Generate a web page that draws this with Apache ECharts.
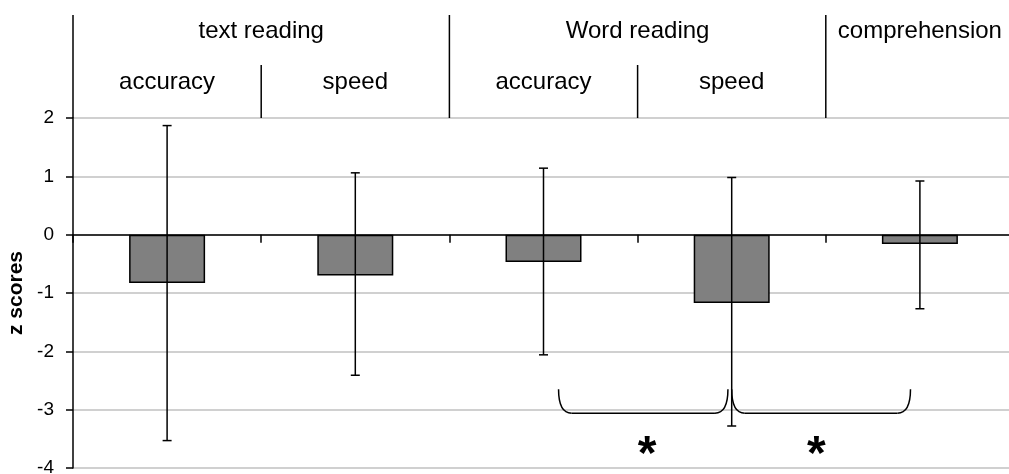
<!DOCTYPE html>
<html><head><meta charset="utf-8">
<script src="https://cdn.jsdelivr.net/npm/echarts@6/dist/echarts.min.js"></script>
<style>html,body{margin:0;padding:0;background:#fff}#c{width:1009px;height:474px}</style>
</head><body><div id="c"></div>
<script>
// ---- data ----
const categories = ['text reading accuracy', 'text reading speed', 'Word reading accuracy', 'Word reading speed', 'comprehension'];
const subLabels = ['accuracy', 'speed', 'accuracy', 'speed', ''];
const groupLabels = ['text reading', 'Word reading', 'comprehension'];
const groupSpans = [2, 2, 1];
const meanZ = [-0.83, -0.70, -0.47, -1.17, -0.16];
const errUpper = [1.87, 1.06, 1.14, 0.98, 0.92];
const errLower = [-3.53, -2.41, -2.06, -3.28, -1.27];
// significance annotation (category-index units / z units)
const bracketSpans = [[2.08, 2.98], [3.0, 3.95]];
const bracketLevels = [-2.65, -3.06];
const starPositions = [2.55, 3.45];
const starLevel = -3.63;

const FONT = '"Liberation Sans", Arial, Helvetica, sans-serif';
const chart = echarts.init(document.getElementById('c'), null, {renderer: 'canvas'});

const errData = categories.map((c, i) => [i, errLower[i], errUpper[i]]);

chart.setOption({
  animation: false,
  backgroundColor: '#fff',
  grid: {left: 73, top: 118, width: 941, height: 350, containLabel: false, outerBoundsMode: 'none'},
  xAxis: {
    type: 'category', data: categories,
    axisLine: {onZero: true, lineStyle: {color: '#000', width: 1.5}},
    axisTick: {show: true, length: 8, lineStyle: {color: '#000', width: 1.5}},
    axisLabel: {show: false},
    splitLine: {show: false}
  },
  yAxis: {
    type: 'value', min: -4, max: 2, interval: 1,
    axisLine: {show: true, lineStyle: {color: '#000', width: 1.5}},
    axisTick: {show: true, length: 7, lineStyle: {color: '#000', width: 1.5}},
    axisLabel: {fontSize: 19, color: '#000', fontFamily: FONT, margin: 19},
    splitLine: {show: true, lineStyle: {color: '#c0c0c0', width: 1.5}},
    name: 'z scores', nameLocation: 'middle', nameGap: 44,
    nameTextStyle: {fontWeight: 'bold', fontSize: 21, color: '#000', fontFamily: FONT}
  },
  series: [
    {
      type: 'bar', data: meanZ, barWidth: 76, z: 2,
      itemStyle: {color: '#808080', borderColor: '#000', borderWidth: 1.5}
    },
    {
      type: 'custom', data: errData, z: 5,
      renderItem: function (params, api) {
        const x = api.value(0);
        const lo = api.coord([x, api.value(1)]);
        const hi = api.coord([x, api.value(2)]);
        const hw = 4.5;
        const st = {stroke: '#000', lineWidth: 1.5};
        return {type: 'group', children: [
          {type: 'line', shape: {x1: lo[0], y1: lo[1], x2: hi[0], y2: hi[1]}, style: st},
          {type: 'line', shape: {x1: hi[0] - hw, y1: hi[1], x2: hi[0] + hw, y2: hi[1]}, style: st},
          {type: 'line', shape: {x1: lo[0] - hw, y1: lo[1], x2: lo[0] + hw, y2: lo[1]}, style: st}
        ]};
      }
    }
  ]
});

// ---- header & annotations computed from the chart's own scales ----
function px(ci, v) { return chart.convertToPixel({gridIndex: 0}, [ci, v]); }
const c0 = px(0, 0), c1 = px(1, 0);
const step = c1[0] - c0[0];
const xAt = f => c0[0] + f * step;           // fractional category index -> px
const yAt = v => px(0, v)[1];
const yTop = yAt(2);
const topLine = 15, midLine = 65;
const row1Y = 31, row2Y = 82;
const stroke = {stroke: '#000', lineWidth: 1.5};
const g = [];

// axis line extension upward
g.push({type: 'line', shape: {x1: xAt(-0.5), y1: topLine, x2: xAt(-0.5), y2: yTop}, style: stroke, z: 10});

let start = 0;
groupLabels.forEach((name, gi) => {
  const span = groupSpans[gi];
  const center = xAt(start + (span - 1) / 2);
  g.push({type: 'text', x: center, y: row1Y, z: 10,
    style: {text: name, font: '24px ' + FONT, fill: '#000', textAlign: 'center', textVerticalAlign: 'middle'}});
  if (start > 0) {
    const bx = xAt(start - 0.5);
    g.push({type: 'line', shape: {x1: bx, y1: topLine, x2: bx, y2: yTop}, style: stroke, z: 10});
  }
  for (let k = 1; k < span; k++) {
    const bx = xAt(start + k - 0.5);
    g.push({type: 'line', shape: {x1: bx, y1: midLine, x2: bx, y2: yTop}, style: stroke, z: 10});
  }
  start += span;
});
subLabels.forEach((s, i) => {
  if (!s) return;
  g.push({type: 'text', x: xAt(i), y: row2Y, z: 10,
    style: {text: s, font: '24px ' + FONT, fill: '#000', textAlign: 'center', textVerticalAlign: 'middle'}});
});

// brackets
const yT = yAt(bracketLevels[0]), yB = yAt(bracketLevels[1]);
const r = 13;
bracketSpans.forEach(([a, b]) => {
  const xa = xAt(a), xb = xAt(b);
  g.push({type: 'bezierCurve', shape: {x1: xa, y1: yT, cpx1: xa, cpy1: yB, x2: xa + r, y2: yB}, style: {stroke: '#000', lineWidth: 1.5, fill: null}, z: 10});
  g.push({type: 'line', shape: {x1: xa + r, y1: yB, x2: xb - r, y2: yB}, style: stroke, z: 10});
  g.push({type: 'bezierCurve', shape: {x1: xb - r, y1: yB, cpx1: xb, cpy1: yB, x2: xb, y2: yT}, style: {stroke: '#000', lineWidth: 1.5, fill: null}, z: 10});
});
starPositions.forEach(p => {
  g.push({type: 'text', x: xAt(p), y: yAt(starLevel) + 9, z: 10,
    style: {text: '*', font: 'bold 48px ' + FONT, fill: '#000', textAlign: 'center', textVerticalAlign: 'middle'}});
});

chart.setOption({graphic: {elements: g}});
</script>
</body></html>
